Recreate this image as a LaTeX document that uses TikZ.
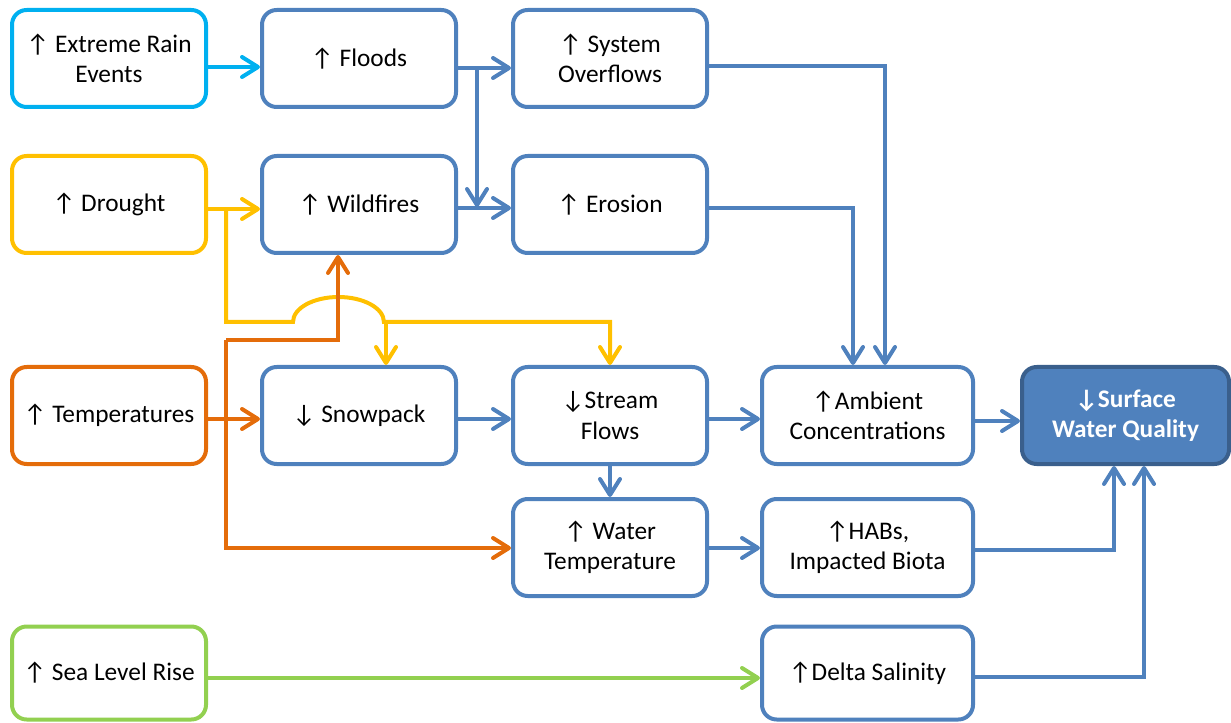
\documentclass[tikz,border=0pt]{standalone}
\usepackage{fontspec}
\setmainfont{Carlito}
\usetikzlibrary{arrows.meta}
\definecolor{cblue}{HTML}{4F81BD}
\definecolor{cdark}{HTML}{3A5F8C}
\definecolor{ccyan}{HTML}{00B0F0}
\definecolor{cyellow}{HTML}{FFC000}
\definecolor{corange}{HTML}{E46C0A}
\definecolor{cgreen}{HTML}{92D050}
\begin{document}
\begin{tikzpicture}[x=0.75pt,y=-0.75pt,
  box/.style={draw=cblue, line width=3pt, rounded corners=11pt, fill=white, align=center,
    font=\fontsize{19}{22.8}\selectfont, text=black, inner sep=0pt,
    minimum width=145.5pt, minimum height=72.75pt},
  conn/.style={draw=cblue, line width=3pt, -{Straight Barb[length=12pt,width=15pt,round]}}]
\useasboundingbox (0,0) rectangle (1231,723);
% column 1
\node[box, draw=ccyan] (rain) at (109,58.5) {↑ Extreme Rain\\Events};
\node[box, draw=cyellow] (drought) at (109,204.5) {↑ Drought};
\node[box, draw=corange] (temps) at (109,415.5) {↑ Temperatures};
\node[box, draw=cgreen, minimum height=69.75pt] (sea) at (109,673) {↑ Sea Level Rise};
% column 2
\node[box] (floods) at (359,58.5) {↑ Floods};
\node[box] (wild) at (359,204.5) {↑ Wildfires};
\node[box] (snow) at (359,415.5) {↓ Snowpack};
% column 3
\node[box] (sys) at (610,58.5) {↑ System\\Overflows};
\node[box] (ero) at (610,204.5) {↑ Erosion};
\node[box] (stream) at (610,415.5) {↓Stream\\Flows};
\node[box] (wtemp) at (610,547.5) {↑ Water\\Temperature};
% column 4
\node[box, minimum width=158.25pt] (amb) at (867.5,415.5) {↑Ambient\\Concentrations};
\node[box, minimum width=158.25pt] (habs) at (867.5,547.5) {↑HABs,\\Impacted Biota};
\node[box, minimum width=158.25pt, minimum height=69.75pt] (delta) at (867.5,673) {↑Delta Salinity};
% column 5
\node[box, draw=cdark, fill=cblue, text=white, font=\fontsize{19}{22.8}\selectfont\bfseries,
  minimum width=155.25pt] (swq) at (1125.5,415.5) {↓Surface\\Water Quality};
% cyan
\draw[conn, draw=ccyan] (rain.east |- 0,67) -- (floods.west |- 0,67);
% blue
\draw[conn] (floods.east |- 0,68) -- (sys.west |- 0,68);
\coordinate (j1) at (477,68);
\coordinate (j2) at (477,207);
\draw[conn] (j1) -- (j2);
\draw[conn] (wild.east |- 0,208) -- (ero.west |- 0,208);
\draw[conn] (sys.east |- 0,66) -| (885,0 |- amb.north);
\draw[conn] (ero.east |- 0,208) -| (853,0 |- amb.north);
\draw[conn] (snow.east |- 0,419) -- (stream.west |- 0,419);
\draw[conn] (stream.east |- 0,419) -- (amb.west |- 0,419);
\draw[conn] (amb.east |- 0,421) -- (swq.west |- 0,421);
\draw[conn] (stream.south) -- (wtemp.north);
\draw[conn] (wtemp.east |- 0,548) -- (habs.west |- 0,548);
\draw[conn] (habs.east |- 0,550) -| (1114,0 |- swq.south);
\draw[conn] (delta.east |- 0,677) -| (1144,0 |- swq.south);
% yellow
\draw[conn, draw=cyellow] (drought.east |- 0,209) -- (wild.west |- 0,209);
\coordinate (y1) at (226,209);
\draw[conn, draw=cyellow] (y1) -- (226,322) -- (293,322)
  arc[start angle=180, end angle=0, x radius=34.1pt, y radius=18.75pt]
  -- (610,322) -- (stream.north);
\draw[conn, draw=cyellow] (386,322) -- (386,0 |- snow.north);
% orange
\draw[conn, draw=corange] (temps.east |- 0,419) -- (snow.west |- 0,419);
\coordinate (o1) at (226,340);
\draw[conn, draw=corange] (o1) -- (338,340) -- (338,0 |- wild.south);
\draw[conn, draw=corange] (o1) -- (226,548) -- (wtemp.west |- 0,548);
% green
\draw[conn, draw=cgreen] (sea.east |- 0,678) -- (delta.west |- 0,678);
\end{tikzpicture}
\end{document}
